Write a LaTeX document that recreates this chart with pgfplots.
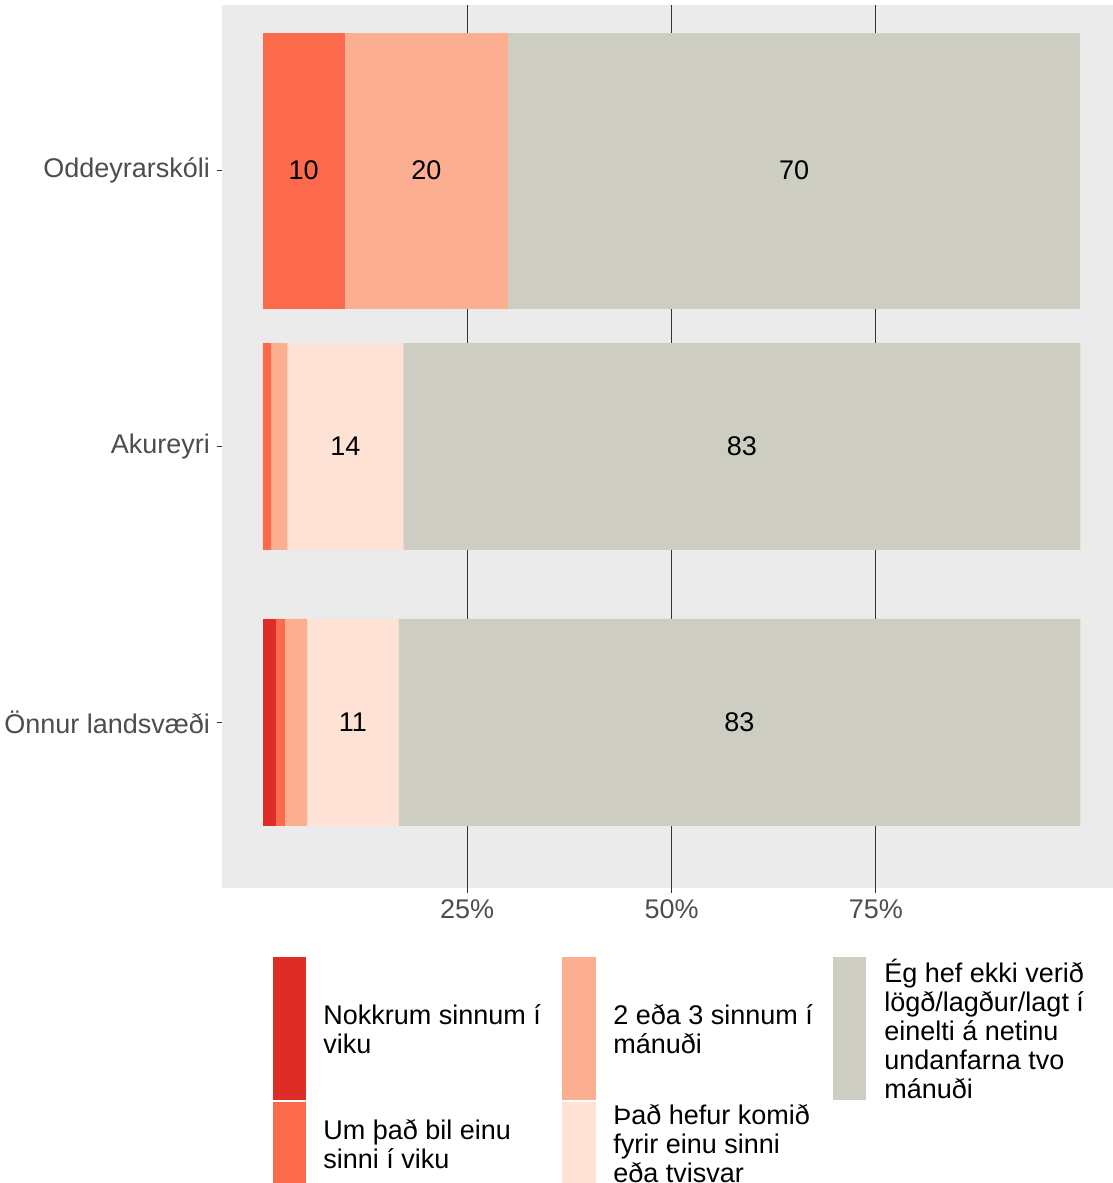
\documentclass[border=0pt]{standalone}
\usepackage{pgfplots}
\pgfplotsset{compat=1.18}
\usepackage{fontspec}
\setmainfont{Liberation Sans}
\definecolor{cA}{HTML}{DE2D26}
\definecolor{cB}{HTML}{FB6A4A}
\definecolor{cC}{HTML}{FCAE91}
\definecolor{cD}{HTML}{FEE2D6}
\definecolor{cE}{HTML}{CDCDC1}
\definecolor{panel}{HTML}{EBEBEB}
\definecolor{tickc}{HTML}{4D4D4D}
\definecolor{gridc}{HTML}{333333}
\newcommand{\tf}{\fontsize{13.5}{14.5}\selectfont}
\pgfplotsset{base/.style={
  scale only axis, width=445.5pt, height=441.5pt,
  xmin=-5, xmax=104, ymin=-0.6, ymax=2.6,
  at={(111pt,-444pt)}, anchor=south west,
  xbar stacked,
  every axis plot/.append style={draw=none},
}}
\begin{document}
\begin{tikzpicture}
\useasboundingbox (0,0) rectangle (556.5pt,-591.5pt);
\begin{axis}[base, bar width=0.75,
  axis background/.style={fill=panel},
  axis line style={draw=none},
  xtick={25,50,75}, xticklabels={25\%,50\%,75\%},
  ytick={0,1,2}, yticklabels={Önnur landsvæði,Akureyri,Oddeyrarskóli},
  xmajorgrids, major grid style={gridc, line width=0.5pt},
  tick style={gridc, line width=0.5pt}, major tick length=2.5pt,
  tick align=outside, xtick pos=bottom, ytick pos=left,
  tick label style={font=\tf, text=tickc},
  clip=false]
\addplot[fill=cA] coordinates {(1.6,0) (0,1)};
\addplot[fill=cB] coordinates {(1.1,0) (1.0,1)};
\addplot[fill=cC] coordinates {(2.7,0) (2.0,1)};
\addplot[fill=cD] coordinates {(11.2,0) (14.2,1)};
\addplot[fill=cE] coordinates {(83.4,0) (82.8,1)};
\coordinate (l1) at (axis cs:11.0,0);
\coordinate (l2) at (axis cs:58.3,0);
\coordinate (l3) at (axis cs:10.1,1);
\coordinate (l4) at (axis cs:58.6,1);
\end{axis}
\begin{axis}[base, bar width=1.0, hide axis, clip=false]
\addplot[fill=cB] coordinates {(10,2)};
\addplot[fill=cC] coordinates {(20,2)};
\addplot[fill=cE] coordinates {(70,2)};
\coordinate (l5) at (axis cs:5,2);
\coordinate (l6) at (axis cs:20,2);
\coordinate (l7) at (axis cs:65,2);
\end{axis}
\node[font=\tf] at (l1) {11};
\node[font=\tf] at (l2) {83};
\node[font=\tf] at (l3) {14};
\node[font=\tf] at (l4) {83};
\node[font=\tf] at (l5) {10};
\node[font=\tf] at (l6) {20};
\node[font=\tf] at (l7) {70};
\begin{scope}[x=0.5pt,y=-0.5pt]
\fill[cA] (273,957) rectangle (306,1100);
\fill[cB] (273,1102) rectangle (306,1188);
\fill[cC] (562,957) rectangle (596,1100);
\fill[cD] (562,1102) rectangle (596,1188);
\fill[cE] (833,957) rectangle (866,1100);
\node[anchor=west, align=left, inner sep=0pt, font=\tf] at (323,1029) {Nokkrum sinnum í\\viku};
\node[anchor=west, align=left, inner sep=0pt, font=\tf] at (323,1144) {Um það bil einu\\sinni í viku};
\node[anchor=west, align=left, inner sep=0pt, font=\tf] at (613,1029) {2 eða 3 sinnum í\\mánuði};
\node[anchor=west, align=left, inner sep=0pt, font=\tf] at (613,1144) {Það hefur komið\\fyrir einu sinni\\eða tvisvar};
\node[anchor=west, align=left, inner sep=0pt, font=\tf] at (884,1029) {Ég hef ekki verið\\lögð/lagður/lagt í\\einelti á netinu\\undanfarna tvo\\mánuði};
\end{scope}
\end{tikzpicture}
\end{document}
